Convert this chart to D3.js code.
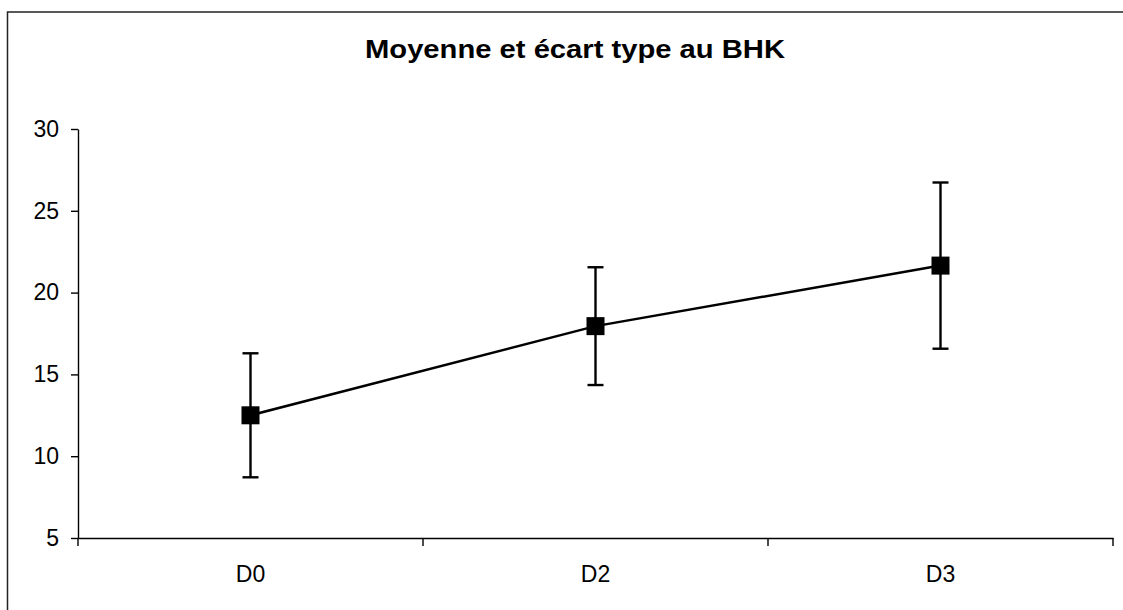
<!DOCTYPE html>
<html><head><meta charset="utf-8">
<script src="https://cdn.jsdelivr.net/npm/d3@7"></script>
<style>body{margin:0;background:#fff}svg{display:block}</style>
</head><body>
<svg id="c" width="1123" height="610"></svg>
<script>
const categories = ["D0", "D2", "D3"];
const means = [12.5, 17.95, 21.65];
const sds = [3.79, 3.6, 5.08];
const yTicks = [5, 10, 15, 20, 25, 30];
const title = "Moyenne et écart type au BHK";

(function () {
const svg = d3.select("#c");
const font = "'Liberation Sans', Arial, sans-serif";
svg.append("rect").attr("x", 7.5).attr("y", 12).attr("width", 1130).attr("height", 620)
  .attr("fill", "#fff").attr("stroke", "#222").attr("stroke-width", 1.5);

const pLeft = 78, pRight = 1113, pTop = 129, pBottom = 538;
const x = d3.scaleBand().domain(categories).range([pLeft, pRight]);
const y = d3.scaleLinear().domain([5, 30]).range([pBottom, pTop]);

svg.append("text").attr("x", 575).attr("y", 58).attr("text-anchor", "middle")
  .attr("font-family", font).attr("font-weight", "bold").attr("font-size", 25)
  .attr("textLength", 420).attr("lengthAdjust", "spacingAndGlyphs").text(title);

// y axis
const ya = svg.append("g").attr("transform", `translate(${pLeft},0)`)
  .call(d3.axisLeft(y).tickValues(yTicks).tickSize(7).tickPadding(12).tickSizeOuter(0));
ya.select(".domain").attr("stroke", "#000").attr("stroke-width", 1.4);
ya.selectAll(".tick line").attr("stroke", "#000").attr("stroke-width", 1.4);
ya.selectAll("text").attr("font-family", font).attr("font-size", 23).attr("fill", "#000");

// x axis
const xa = svg.append("g").attr("transform", `translate(0,${pBottom})`)
  .call(d3.axisBottom(x).tickSize(0).tickPadding(28).tickSizeOuter(0));
xa.select(".domain").attr("stroke", "#000").attr("stroke-width", 1.4);
xa.selectAll("text").attr("font-family", font).attr("font-size", 23).attr("fill", "#000");
const bounds = categories.map(c => x(c)).concat([pRight]);
xa.selectAll(".bt").data(bounds).enter().append("line").attr("class", "bt")
  .attr("x1", d => d).attr("x2", d => d).attr("y1", 0).attr("y2", 8)
  .attr("stroke", "#000").attr("stroke-width", 1.4);

const cx = c => x(c) + x.bandwidth() / 2;
const data = categories.map((c, i) => ({c, m: means[i], s: sds[i]}));

// line
svg.append("path").datum(data)
  .attr("d", d3.line().x(d => cx(d.c)).y(d => y(d.m)))
  .attr("fill", "none").attr("stroke", "#000").attr("stroke-width", 2.5);

// error bars
const eb = svg.append("g").selectAll("g").data(data).enter().append("g");
eb.append("line").attr("x1", d => cx(d.c)).attr("x2", d => cx(d.c))
  .attr("y1", d => y(d.m + d.s)).attr("y2", d => y(d.m - d.s))
  .attr("stroke", "#000").attr("stroke-width", 2.4);
[1, -1].forEach(sg => {
  eb.append("line").attr("x1", d => cx(d.c) - 8).attr("x2", d => cx(d.c) + 8)
    .attr("y1", d => y(d.m + sg * d.s)).attr("y2", d => y(d.m + sg * d.s))
    .attr("stroke", "#000").attr("stroke-width", 2.4);
});

// markers
svg.append("g").selectAll("rect").data(data).enter().append("rect")
  .attr("x", d => cx(d.c) - 9).attr("y", d => y(d.m) - 9)
  .attr("width", 18).attr("height", 18).attr("fill", "#000");
})();
</script>
</body></html>
